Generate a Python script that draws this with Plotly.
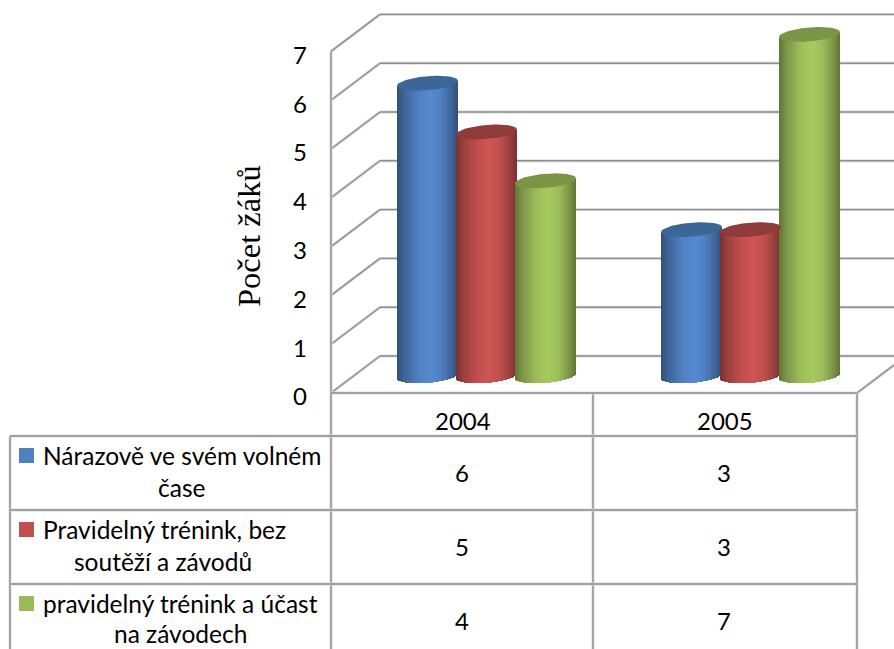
import numpy as np
import plotly.graph_objects as go

# Data
years = ["2004", "2005"]
series_names = [
    ["Nárazově ve svém volném", "čase"],
    ["Pravidelný trénink, bez", "soutěží a závodů"],
    ["pravidelný trénink a účast", "na závodech"],
]
series_values = [[6, 3], [5, 3], [4, 7]]
y_ticks = [0, 1, 2, 3, 4, 5, 6, 7]
axis_title = "Počet žáků"

# Colours: body highlight, legend swatch, top cap
body_rgb = [(86, 138, 208), (207, 86, 84), (168, 203, 96)]
swatch_rgb = ["#4f81bd", "#c0504d", "#9bbb59"]
cap_rgb = ["#3c6695", "#8f3b39", "#7a9545"]

# Canvas and plot geometry, in pixels
W, H = 894, 649
PX_ZERO = 393.0      # front edge of the floor
PX_UNIT = 48.8       # pixels per pupil
FRONT_X, BACK_X = 331, 380
WALL_RIGHT = 857
DEPTH = 37 / PX_UNIT
BAR_BASE = 17 / PX_UNIT
group_left = [397, 661]
bar_step = 59
bar_width = 61
TILT = 2.5 / PX_UNIT
CAP_H = 7 / PX_UNIT

# Table rows and columns, in pixels
TABLE_LEFT = 10
COLS = [331, 593, 857]
ROWS = [436, 510, 584]
HEAD_TOP = 393
col_centres = [463, 725]
head_y = 420
cell_y = [473, 546, 620]
line1_y = [455, 529, 603]
line2_y = [487, 561, 633.5]
line2_x = [181, 163, 180]
swatch_y = [448, 522, 596]


def py(pixel):
    return 1 - pixel / H


def shade(rgb, t):
    # Cylinder lighting across the width, t running 0..1 from left to right
    f = np.interp(t, [0, 0.12, 0.35, 0.55, 0.72, 0.9, 1], [0.58, 0.74, 0.93, 1.0, 0.93, 0.72, 0.58])
    return "rgb(%d,%d,%d)" % tuple(int(c * f) for c in rgb)


fig = go.Figure()

# Cylinder bodies as one-pixel columns of a bar trace, capped by tilted ellipses
for s, values in enumerate(series_values):
    xs, bases, heights, colors = [], [], [], []
    cap_x, cap_y = [], []
    for g, value in enumerate(values):
        left = group_left[g] + s * bar_step
        cx = left + bar_width / 2
        for px in range(left, left + bar_width):
            u = (px + 0.5 - cx) / (bar_width / 2)
            t = (u + 1) / 2
            bottom = BAR_BASE + TILT * u - CAP_H * np.sqrt(max(0, 1 - u * u))
            top = value + BAR_BASE + TILT * u
            xs.append(px + 0.5)
            bases.append(bottom)
            heights.append(top - bottom)
            colors.append(shade(body_rgb[s], t))
        for a in np.linspace(0, 2 * np.pi, 73):
            u = np.cos(a)
            cap_x.append(cx + bar_width / 2 * u)
            cap_y.append(value + BAR_BASE + TILT * u + CAP_H * np.sin(a))
        cap_x.append(None)
        cap_y.append(None)
    fig.add_trace(go.Bar(
        x=xs, y=heights, base=bases, width=1,
        marker=dict(color=colors, line=dict(width=0)),
        showlegend=False, hoverinfo="skip",
    ))
    fig.add_trace(go.Scatter(
        x=cap_x, y=cap_y, mode="lines", fill="toself",
        fillcolor=cap_rgb[s], line=dict(width=0),
        showlegend=False, hoverinfo="skip",
    ))

shapes = []


def grid_line(x0, y0, x1, y1, xref="x", yref="y"):
    # Soft light halo under a darker core
    for width, color in ((3, "#dcdcdc"), (1.4, "#8e8e8e")):
        shapes.append(dict(type="line", xref=xref, yref=yref, x0=x0, y0=y0, x1=x1, y1=y1,
                           layer="below", line=dict(color=color, width=width)))


# Walls and floor
for tick in y_ticks:
    grid_line(FRONT_X, tick, BACK_X, tick + DEPTH)
    grid_line(BACK_X, tick + DEPTH, W + 5, tick + DEPTH)
grid_line(FRONT_X, y_ticks[-1], FRONT_X, 0)
grid_line(FRONT_X, 0, WALL_RIGHT, 0)
grid_line(WALL_RIGHT, 0, W, DEPTH * (W - WALL_RIGHT) / (BACK_X - FRONT_X))

# Data table grid
for col in COLS:
    grid_line(col, py(HEAD_TOP), col, py(H + 5), yref="paper")
grid_line(TABLE_LEFT, py(ROWS[0]), TABLE_LEFT, py(H + 5), yref="paper")
for row in ROWS:
    grid_line(TABLE_LEFT, py(row), COLS[-1], py(row), yref="paper")

# Legend keys inside the table
for s, top in enumerate(swatch_y):
    shapes.append(dict(type="rect", xref="x", yref="paper", x0=19, x1=34,
                       y0=py(top), y1=py(top + 15), fillcolor=swatch_rgb[s],
                       line=dict(width=0), layer="above"))

FONT = "Lato, Carlito, sans-serif"
annotations = []


def label(text, x, y_pixel, anchor="center", size=24.5):
    annotations.append(dict(text=text, x=x, y=py(y_pixel), xref="x", yref="paper",
                            xanchor=anchor, yanchor="middle", showarrow=False,
                            font=dict(family=FONT, size=size, color="#000000")))


for g, year in enumerate(years):
    label(year, col_centres[g], head_y, size=24)
for s, values in enumerate(series_values):
    label(series_names[s][0], 41, line1_y[s], anchor="left")
    label(series_names[s][1], line2_x[s], line2_y[s])
    for g, value in enumerate(values):
        label(str(value), col_centres[g] - 1, cell_y[s], size=24)

annotations.append(dict(text=axis_title, x=249, y=py(236), xref="x", yref="paper",
                        textangle=-90, showarrow=False, xanchor="center", yanchor="middle",
                        font=dict(family="Liberation Serif, Times New Roman, serif",
                                  size=32.5, color="#000000")))

fig.update_layout(
    width=W, height=H, autosize=False,
    margin=dict(l=0, r=0, t=0, b=0),
    paper_bgcolor="white", plot_bgcolor="white",
    barmode="overlay", bargap=0,
    showlegend=False,
    shapes=shapes, annotations=annotations,
    xaxis=dict(range=[0, W], visible=False, fixedrange=True),
    yaxis=dict(
        range=[(PX_ZERO - H) / PX_UNIT, PX_ZERO / PX_UNIT],
        anchor="free", position=FRONT_X / W, side="left",
        tickvals=y_ticks, ticktext=[str(t) for t in y_ticks],
        showgrid=False, zeroline=False, showline=False, ticks="",
        ticklabelstandoff=24, ticklabelshift=4,
        tickfont=dict(family=FONT, size=24, color="#000000"),
        fixedrange=True,
    ),
)

fig.write_html("out.html", config={"displayModeBar": False})
